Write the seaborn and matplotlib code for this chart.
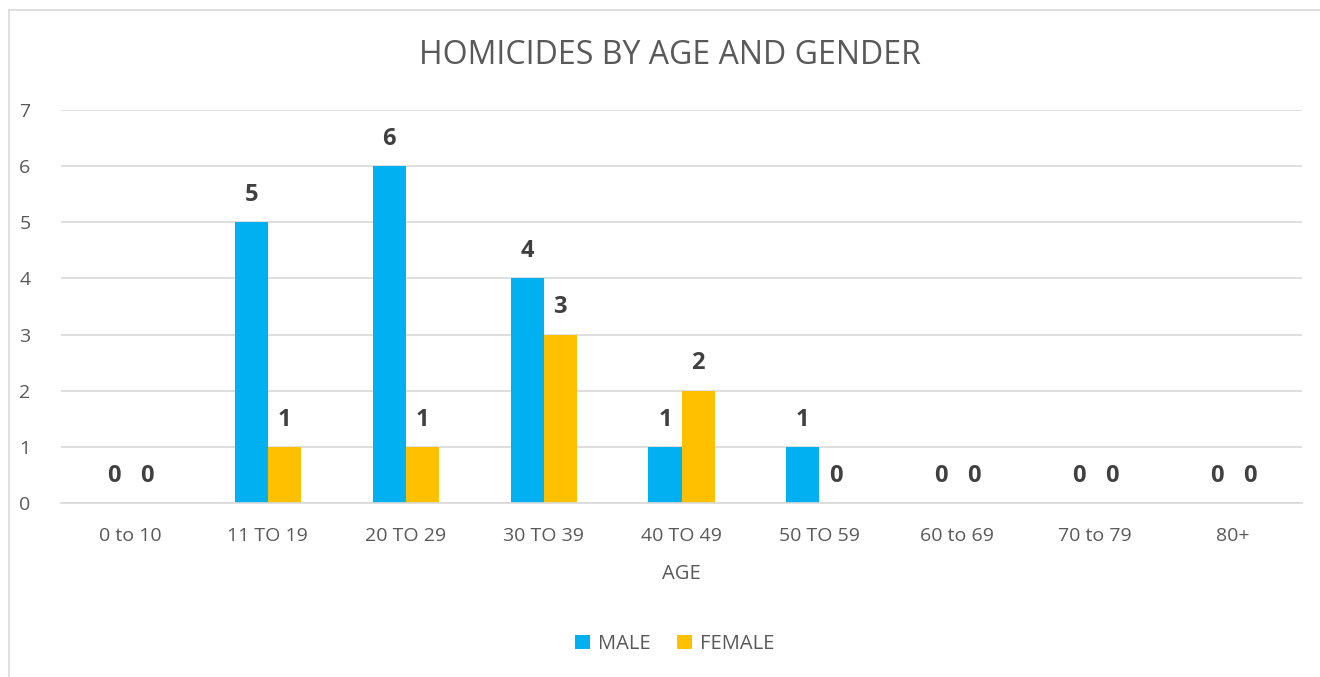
import pandas as pd
import matplotlib.pyplot as plt
import seaborn as sns

# Data
age_groups = ["0 to 10", "11 TO 19", "20 TO 29", "30 TO 39", "40 TO 49",
              "50 TO 59", "60 to 69", "70 to 79", "80+"]
male = [0, 5, 6, 4, 1, 1, 0, 0, 0]
female = [0, 1, 1, 3, 2, 0, 0, 0, 0]

df = pd.DataFrame({
    "AGE": age_groups * 2,
    "count": male + female,
    "gender": ["MALE"] * len(male) + ["FEMALE"] * len(female),
})

sns.set_style("white")
plt.rcParams["font.family"] = ["Open Sans", "DejaVu Sans"]

text_grey = "#595959"
fig = plt.figure(figsize=(13.2, 6.77), dpi=100)
ax = fig.add_axes([61 / 1320, 1 - 503 / 677, (1302 - 61) / 1320, (503 - 110) / 677])

sns.barplot(
    data=df, x="AGE", y="count", hue="gender",
    palette={"MALE": "#00B0F0", "FEMALE": "#FFC000"},
    width=0.48, gap=0, saturation=1, linewidth=0, ax=ax, legend=True,
)

for container in ax.containers:
    ax.bar_label(container, padding=11, fontsize=17, fontweight="bold", color="#404040")

ax.set_ylim(0, 7)
ax.set_yticks(range(0, 8))
ax.yaxis.grid(True, color="#D9D9D9", linewidth=1.2)
ax.set_axisbelow(True)
for side in ["top", "right", "left"]:
    ax.spines[side].set_visible(False)
ax.spines["bottom"].set_color("#D9D9D9")
ax.spines["bottom"].set_linewidth(1.2)
ax.tick_params(axis="both", length=0, labelsize=14, colors=text_grey, pad=17)
ax.tick_params(axis="y", pad=22)
ax.set_xlabel("AGE", fontsize=14.5, color=text_grey, labelpad=14)
ax.set_ylabel("")

fig.text(670 / 1320, 1 - 55 / 677, "HOMICIDES BY AGE AND GENDER",
         ha="center", va="center", fontsize=23, color=text_grey)

ax.legend(loc="center", bbox_to_anchor=(675 / 1320, 1 - 644 / 677),
          bbox_transform=fig.transFigure, ncol=2, frameon=False,
          fontsize=14.5, labelcolor=text_grey, handlelength=0.75, handleheight=0.75,
          handletextpad=0.4, columnspacing=1.3)

# chart area border
fig.add_artist(plt.Line2D([9 / 1320, 9 / 1320], [0, 1 - 10 / 677], color="#D9D9D9", linewidth=1.2))
fig.add_artist(plt.Line2D([9 / 1320, 1], [1 - 10 / 677, 1 - 10 / 677], color="#D9D9D9", linewidth=1.2))

plt.savefig("out.png", dpi=100)
plt.close()
